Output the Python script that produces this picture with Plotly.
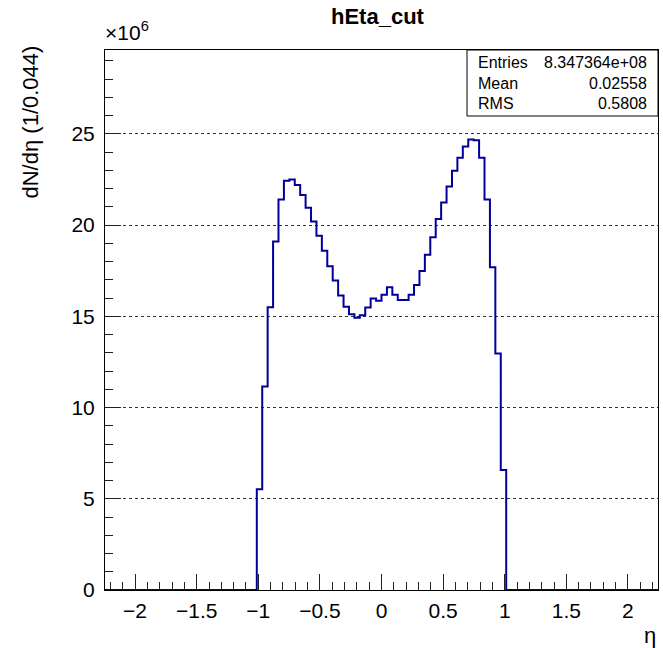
import numpy as np
import plotly.graph_objects as go

# ---- data ----
bin_width = 0.044
x_low, x_high = -2.244, 2.244
n_bins = 102
first_nonzero_bin = 28
# bin contents in units of 1e6 (bins from eta=-1.012 to 1.012)
counts_1e6 = [5.52, 11.16, 15.50, 19.10, 21.40, 22.43, 22.50, 22.20, 21.65, 20.95,
              20.20, 19.42, 18.60, 17.74, 16.96, 16.14, 15.52, 15.12, 14.93, 15.06,
              15.48, 15.98, 15.86, 16.19, 16.59, 16.19, 15.90, 15.90, 16.19, 16.72,
              17.49, 18.38, 19.33, 20.33, 21.24, 22.12, 22.98, 23.70, 24.31, 24.69,
              24.65, 23.70, 21.41, 17.69, 12.96, 6.58]
y_tick_vals = [0, 5, 10, 15, 20, 25]
x_tick_vals = [-2, -1.5, -1, -0.5, 0, 0.5, 1, 1.5, 2]
stats_names = ["Entries", "Mean", "RMS"]
stats_values = ["8.347364e+08", "0.02558", "0.5808"]

contents = np.zeros(n_bins)
contents[first_nonzero_bin:first_nonzero_bin + len(counts_1e6)] = counts_1e6
edges = x_low + bin_width * np.arange(n_bins + 1)
ys = np.append(contents, contents[-1])

W, H = 663, 648
L, R, T, B = 105, 658, 50, 590
def px(x): return (x - L) / (R - L)
def py(y): return (B - y) / (B - T)

FONT = "Liberation Sans, Arial, Helvetica, sans-serif"

fig = go.Figure()
fig.add_trace(go.Scatter(x=edges, y=ys, mode="lines", line_shape="hv",
                         line=dict(color="#000099", width=2), showlegend=False,
                         hoverinfo="skip"))

fig.update_layout(
    width=W, height=H,
    margin=dict(l=L, r=W - R, t=T, b=H - B),
    paper_bgcolor="white", plot_bgcolor="white",
    font=dict(family=FONT, color="black", size=21),
    xaxis=dict(range=[x_low, x_high], tickvals=x_tick_vals,
               ticks="inside", ticklen=16, tickwidth=1, tickcolor="#222",
               minor=dict(dtick=0.1, tick0=0, ticks="inside", ticklen=8, tickcolor="#222"),
               showgrid=False, zeroline=False, showline=True, linecolor="black",
               linewidth=1, mirror=True, tickfont=dict(size=21), ticklabelstandoff=2),
    yaxis=dict(range=[0, 29.6], tickvals=y_tick_vals,
               ticks="inside", ticklen=16, tickwidth=1, tickcolor="#222",
               minor=dict(dtick=1, tick0=0, ticks="inside", ticklen=8, tickcolor="#222"),
               showgrid=True, gridcolor="#333", griddash="dot", gridwidth=1,
               zeroline=False, showline=True, linecolor="black", linewidth=1,
               mirror=True, tickfont=dict(size=21), ticklabelstandoff=5),
)

ann = []
ann.append(dict(text="<b>hEta_cut</b>", x=px(378), y=py(16), xref="paper", yref="paper",
                xanchor="center", yanchor="middle", showarrow=False, font=dict(size=22)))
ann.append(dict(text="×10<sup>6</sup>", x=px(103), y=py(46), xref="paper", yref="paper",
                xanchor="left", yanchor="bottom", showarrow=False, font=dict(size=21)))
ann.append(dict(text="dN/dη (1/0.044)", x=px(30), y=py(44), xref="paper", yref="paper",
                xanchor="center", yanchor="top", textangle=-90, showarrow=False,
                font=dict(size=22)))
ann.append(dict(text="η", x=px(658), y=py(635), xref="paper", yref="paper",
                xanchor="right", yanchor="middle", showarrow=False, font=dict(size=22)))
row_y = [62, 83, 104]
for name, val, yy in zip(stats_names, stats_values, row_y):
    ann.append(dict(text=name, x=px(476), y=py(yy), xref="paper", yref="paper",
                    xanchor="left", yanchor="middle", showarrow=False, font=dict(size=16)))
    ann.append(dict(text=val, x=px(649), y=py(yy), xref="paper", yref="paper",
                    xanchor="right", yanchor="middle", showarrow=False, font=dict(size=16)))
fig.update_layout(annotations=ann)
fig.add_shape(type="rect", xref="paper", yref="paper", x0=px(467), x1=px(658),
              y0=py(116), y1=py(50), line=dict(color="black", width=1),
              fillcolor="white", layer="above")

fig.write_html("out.html", config={"displayModeBar": False},
               post_script="document.body.style.margin='0';document.body.style.overflow='hidden';")
